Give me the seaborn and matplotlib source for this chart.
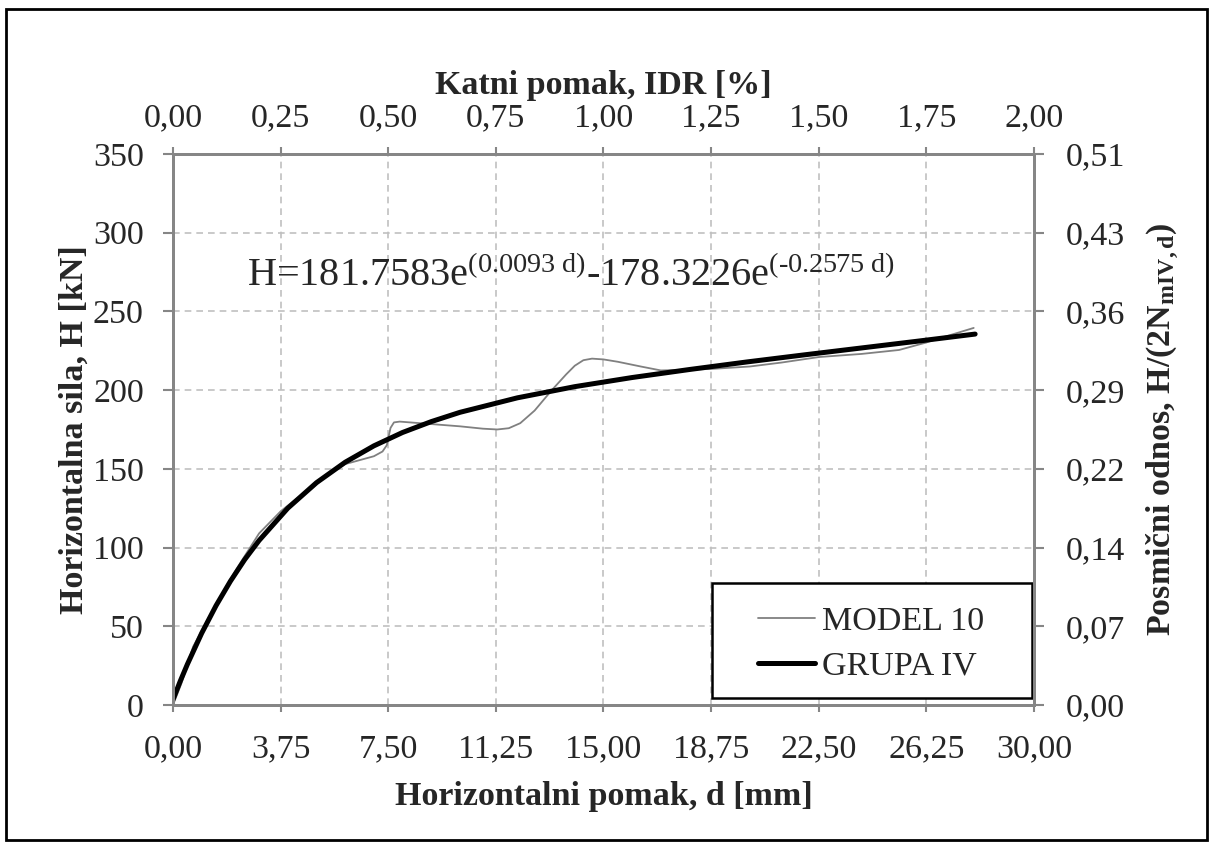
import matplotlib
matplotlib.use("Agg")
import matplotlib.pyplot as plt
import seaborn as sns
import pandas as pd
from matplotlib.patches import Rectangle

# MODEL 10
model_d = [0, 0.3, 0.7, 1.5, 2.2, 3.0, 3.75, 4.3, 4.8, 5.3, 6.0, 6.6, 7.0, 7.3, 7.45,
           7.52, 7.58, 7.7, 7.9, 8.6, 10.0, 10.8, 11.3, 11.7, 12.1, 12.6, 13.2, 13.7,
           14.0, 14.3, 14.6, 15.0, 15.5, 16.3, 17.0, 18.0, 18.8, 20.1, 21.2, 22.5,
           24.0, 25.3, 26.2, 27.0, 27.9]
model_h = [0, 14, 37, 64, 86, 109, 123, 131, 137, 145, 153, 156, 158, 161, 165,
           171, 176, 179.5, 180, 179, 177, 175.5, 175, 175.8, 179, 187, 200, 210,
           215.5, 219, 220, 219.5, 218, 215, 212.5, 213, 213.5, 215, 217.5, 221,
           223, 225.5, 230, 234.5, 239.5]

# GRUPA IV fitted curve
grupa_d = [0, 0.25, 0.5, 1, 1.5, 2, 2.5, 3, 4, 5, 6, 7, 8, 9, 10, 12, 14, 16, 18,
           20, 22, 24, 26, 27.95]
grupa_h = [3.4, 15.0, 25.8, 45.6, 63.1, 78.6, 92.4, 104.5, 125.0, 141.2, 154.2, 164.6,
           173.1, 180.0, 185.9, 195.1, 202.2, 208.0, 213.1, 217.9, 222.4, 226.8,
           231.2, 235.6]

x_ticks = [0, 3.75, 7.5, 11.25, 15, 18.75, 22.5, 26.25, 30]
y_ticks = [0, 50, 100, 150, 200, 250, 300, 350]
top_ticks = [0, 0.25, 0.5, 0.75, 1.0, 1.25, 1.5, 1.75, 2.0]
right_labels = ["0,00", "0,07", "0,14", "0,22", "0,29", "0,36", "0,43", "0,51"]

equation = (r"H=181.7583e$^{\text{(0.0093 d)}}$"
            r"-178.3226e$^{\text{(-0.2575 d)}}$")


def comma(v, n=2):
    return f"{v:.{n}f}".replace(".", ",")


sns.set_style("white")
plt.rcParams["font.family"] = ["Liberation Serif", "DejaVu Serif"]
plt.rcParams["mathtext.fontset"] = "custom"
plt.rcParams["mathtext.rm"] = "Liberation Serif"
plt.rcParams["mathtext.it"] = "Liberation Serif"
plt.rcParams["mathtext.bf"] = "Liberation Serif:bold"

fig = plt.figure(figsize=(12.14, 8.46), dpi=100)
ax = fig.add_axes([0.1425, 0.1667, 0.7092, 0.6513])

grid_col = "#c0c0c0"
axis_col = "#868686"
fs = 24.5

df_model = pd.DataFrame({"d": model_d, "H": model_h})
df_grupa = pd.DataFrame({"d": grupa_d, "H": grupa_h})
sns.lineplot(data=df_model, x="d", y="H", ax=ax, color="#808080", lw=1.3,
             label="MODEL 10", sort=False)
sns.lineplot(data=df_grupa, x="d", y="H", ax=ax, color="black", lw=3.6,
             label="GRUPA IV", sort=False)

ax.set_xlim(0, 30)
ax.set_ylim(0, 350)
ax.set_xticks(x_ticks)
ax.set_xticklabels([comma(v) for v in x_ticks])
ax.set_yticks(y_ticks)
ax.set_yticklabels([str(v) for v in y_ticks])
ax.grid(True, color=grid_col, ls=(0, (4, 3)), lw=1.2)
ax.tick_params(axis="x", labelsize=fs, length=5, width=1.5, color=axis_col, pad=16)
ax.tick_params(axis="y", labelsize=fs, length=7, width=1.5, color=axis_col, pad=14)
ax.set_xlabel("Horizontalni pomak, d [mm]", fontsize=fs, fontweight="bold", labelpad=12)
ax.set_ylabel("Horizontalna sila, H [kN]", fontsize=fs, fontweight="bold", labelpad=2)

ax_top = ax.twiny()
ax_top.set_xlim(0, 2)
ax_top.set_xticks(top_ticks)
ax_top.set_xticklabels([comma(v) for v in top_ticks])
ax_top.tick_params(labelsize=fs, length=5, width=1.5, color=axis_col, pad=10)
ax_top.set_xlabel("Katni pomak, IDR [%]", fontsize=fs, fontweight="bold", labelpad=6)

ax_right = ax.twinx()
ax_right.set_ylim(0, 350)
ax_right.set_yticks(y_ticks)
ax_right.set_yticklabels(right_labels)
ax_right.tick_params(labelsize=fs, length=7, width=1.5, color=axis_col, pad=16)
ax_right.set_ylabel(r"Posmični odnos, H/(2N$_{\mathbf{mIV,d}}$)", fontsize=fs,
                    fontweight="bold", labelpad=14)

for a in (ax, ax_top, ax_right):
    for s in a.spines.values():
        s.set_color(axis_col)
        s.set_linewidth(2)

ax.text(0.086, 0.760, equation, transform=ax.transAxes, fontsize=29,
        va="baseline", ha="left")

# legend box drawn by hand, legend itself without frame
ax.add_patch(Rectangle((0.626, 0.0127), 0.3717, 0.2087, transform=ax.transAxes,
                       facecolor="white", edgecolor="black", lw=1.8, zorder=4))
leg = ax.legend(loc="center left", bbox_to_anchor=(0.679, 0.111), fontsize=fs,
                frameon=False, handlelength=1.7, handletextpad=0.2,
                borderpad=0, labelspacing=0.42, borderaxespad=0)
leg.set_zorder(5)

fig.patches.append(Rectangle((0.005, 0.007), 0.989, 0.982, transform=fig.transFigure,
                             fill=False, edgecolor="black", lw=2))

fig.savefig("out.png", dpi=100)
